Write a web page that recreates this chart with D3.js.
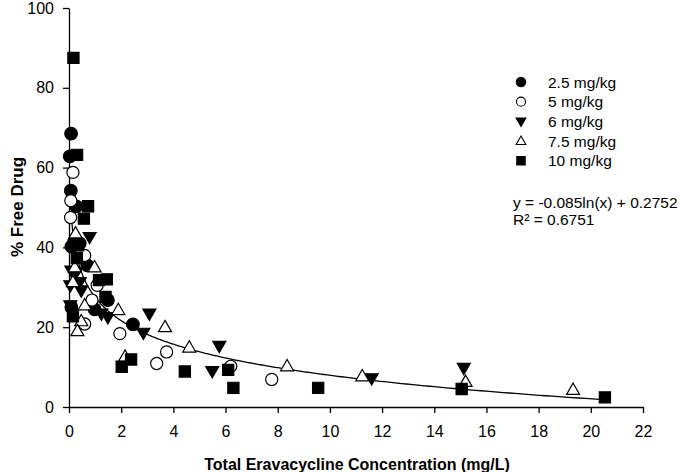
<!DOCTYPE html>
<html>
<head>
<meta charset="utf-8">
<script src="https://cdn.jsdelivr.net/npm/d3@7"></script>
<style>
  html, body { margin: 0; padding: 0; background: #fff; }
  svg { display: block; font-family: "Liberation Sans", Arial, sans-serif; }
</style>
</head>
<body>
<svg id="chart" width="680" height="472"></svg>
<script>
// ---- data (x = total concentration mg/L, y = % free drug) ----
const seriesNames = ["2.5 mg/kg", "5 mg/kg", "6 mg/kg", "7.5 mg/kg", "10 mg/kg"];
const dose25 = [[0.08,68.5],[0.03,62.8],[0.07,54.2],[0.28,50.3],[0.09,40.2],[0.2,41.5],[0.41,41],[0.7,35.5],[0.09,25],[0.98,24.5],[1.49,26.8],[2.45,20.7]];
const dose5 = [[0.15,58.8],[0.07,51.7],[0.06,47.5],[0.6,38],[1.08,30.5],[0.88,26.8],[0.6,20.8],[1.95,18.4],[3.36,10.9],[3.74,13.8],[6.2,10.2],[7.77,6.9]];
const dose6 = [[0.79,42.6],[0.28,33.8],[0.09,34.2],[0.05,30.5],[0.41,31.3],[0.47,29.2],[0.05,25.5],[1.24,23.4],[1.49,22.5],[2.85,18.6],[3.08,23.4],[5.49,9],[5.76,15.3],[11.6,7.2],[15.13,9.8]];
const dose75 = [[0.25,43.5],[0.22,35],[0.98,35],[0.15,31.3],[0.6,25.5],[0.47,21.5],[0.32,19],[1.89,24.3],[3.68,20],[2.15,12.6],[4.61,14.9],[8.36,10.2],[11.24,7.7],[15.2,6.3],[19.32,4.3]];
const dose10 = [[0.17,87.5],[0.31,63.2],[0.73,50.3],[0.57,47.2],[0.35,40.5],[0.3,37.3],[1.15,31.8],[1.45,32],[1.4,27.6],[0.15,22.7],[2.02,10.1],[2.38,11.9],[4.44,8.9],[6.1,9.3],[6.3,4.8],[9.55,4.8],[15.05,4.5],[20.54,2.4]];
const xTicks = [0,2,4,6,8,10,12,14,16,18,20,22];
const yTicks = [0,20,40,60,80,100];
const fitA = -0.085, fitB = 0.2752;   // y = a ln(x) + b (fraction)
const fitRange = [0.1, 20.6];
const eqLines = ["y = -0.085ln(x) + 0.2752", "R² = 0.6751"];
const xTitle = "Total Eravacycline Concentration (mg/L)";
const yTitle = "% Free Drug";

const svg = d3.select("#chart");
const x = d3.scaleLinear().domain([0, 22]).range([69, 643]);
const y = d3.scaleLinear().domain([0, 100]).range([407, 8]);

// axes
const xAxis = svg.append("g").attr("transform", `translate(0,${y(0)})`)
  .call(d3.axisBottom(x).tickValues(xTicks).tickSize(6).tickSizeOuter(0).tickPadding(13));
const yAxis = svg.append("g").attr("transform", `translate(${x(0)},0)`)
  .call(d3.axisLeft(y).tickValues(yTicks).tickSize(6).tickSizeOuter(0).tickPadding(9));
[xAxis, yAxis].forEach(g => {
  g.select(".domain").attr("stroke", "#000").attr("stroke-width", 1.3);
  g.selectAll(".tick line").attr("stroke", "#000").attr("stroke-width", 1.3);
  g.selectAll(".tick text").attr("fill", "#000").style("font-size", "16px")
    .style("font-family", "'Liberation Sans', Arial, sans-serif");
});

// trend line
const fitPts = d3.range(0, 401).map(i => {
  const xv = Math.exp(Math.log(fitRange[0]) + (Math.log(fitRange[1]) - Math.log(fitRange[0])) * i / 400);
  return [xv, 100 * (fitA * Math.log(xv) + fitB)];
});
svg.append("path").datum(fitPts)
  .attr("fill", "none").attr("stroke", "#000").attr("stroke-width", 1.3)
  .attr("d", d3.line().x(d => x(d[0])).y(d => y(d[1])));

// marker drawing
const symbols = [
  {type: d3.symbolCircle, fill: "#000", size: 125},
  {type: d3.symbolCircle, fill: "#fff", size: 115},
  {type: "down", fill: "#000", size: 13},
  {type: "up", fill: "#fff", size: 13},
  {type: d3.symbolSquare, fill: "#000", size: 125}
];
function tri(w, up) {
  const h = w * 0.87;
  return up ? `M0,${-h*0.6}L${w/2},${h*0.4}L${-w/2},${h*0.4}Z`
            : `M0,${h*0.6}L${w/2},${-h*0.4}L${-w/2},${-h*0.4}Z`;
}
function pathFor(sym, scale) {
  if (sym.type === "down") return tri(sym.size * scale, false);
  if (sym.type === "up") return tri(sym.size * scale, true);
  return d3.symbol().type(sym.type).size(sym.size * scale * scale)();
}
const allSeries = [dose25, dose5, dose6, dose75, dose10];
allSeries.forEach((data, i) => {
  const sym = symbols[i];
  svg.append("g").selectAll("path").data(data).join("path")
    .attr("transform", d => `translate(${x(d[0])},${y(d[1])})`)
    .attr("d", pathFor(sym, 1))
    .attr("fill", sym.fill).attr("stroke", "#000").attr("stroke-width", 1.2);
});

// legend
const legend = svg.append("g");
seriesNames.forEach((name, i) => {
  const cy = 82 + i * 19.7;
  const sym = symbols[i];
  legend.append("path").attr("transform", `translate(521,${cy})`)
    .attr("d", pathFor(sym, 0.75)).attr("fill", sym.fill).attr("stroke", "#000").attr("stroke-width", 1.1);
  legend.append("text").attr("x", 548).attr("y", cy + 5.5).text(name)
    .style("font-size", "15.5px").attr("fill", "#000");
});

// equation
eqLines.forEach((t, i) => {
  svg.append("text").attr("x", 513).attr("y", 208 + i * 16.5).text(t)
    .style("font-size", "15.5px").attr("fill", "#000");
});

// titles
svg.append("text").attr("x", 357).attr("y", 470).attr("text-anchor", "middle")
  .style("font-size", "16px").style("font-weight", "bold").text(xTitle);
svg.append("text").attr("transform", "translate(23,207) rotate(-90)").attr("text-anchor", "middle")
  .style("font-size", "17px").style("font-weight", "bold").text(yTitle);
</script>
</body>
</html>
